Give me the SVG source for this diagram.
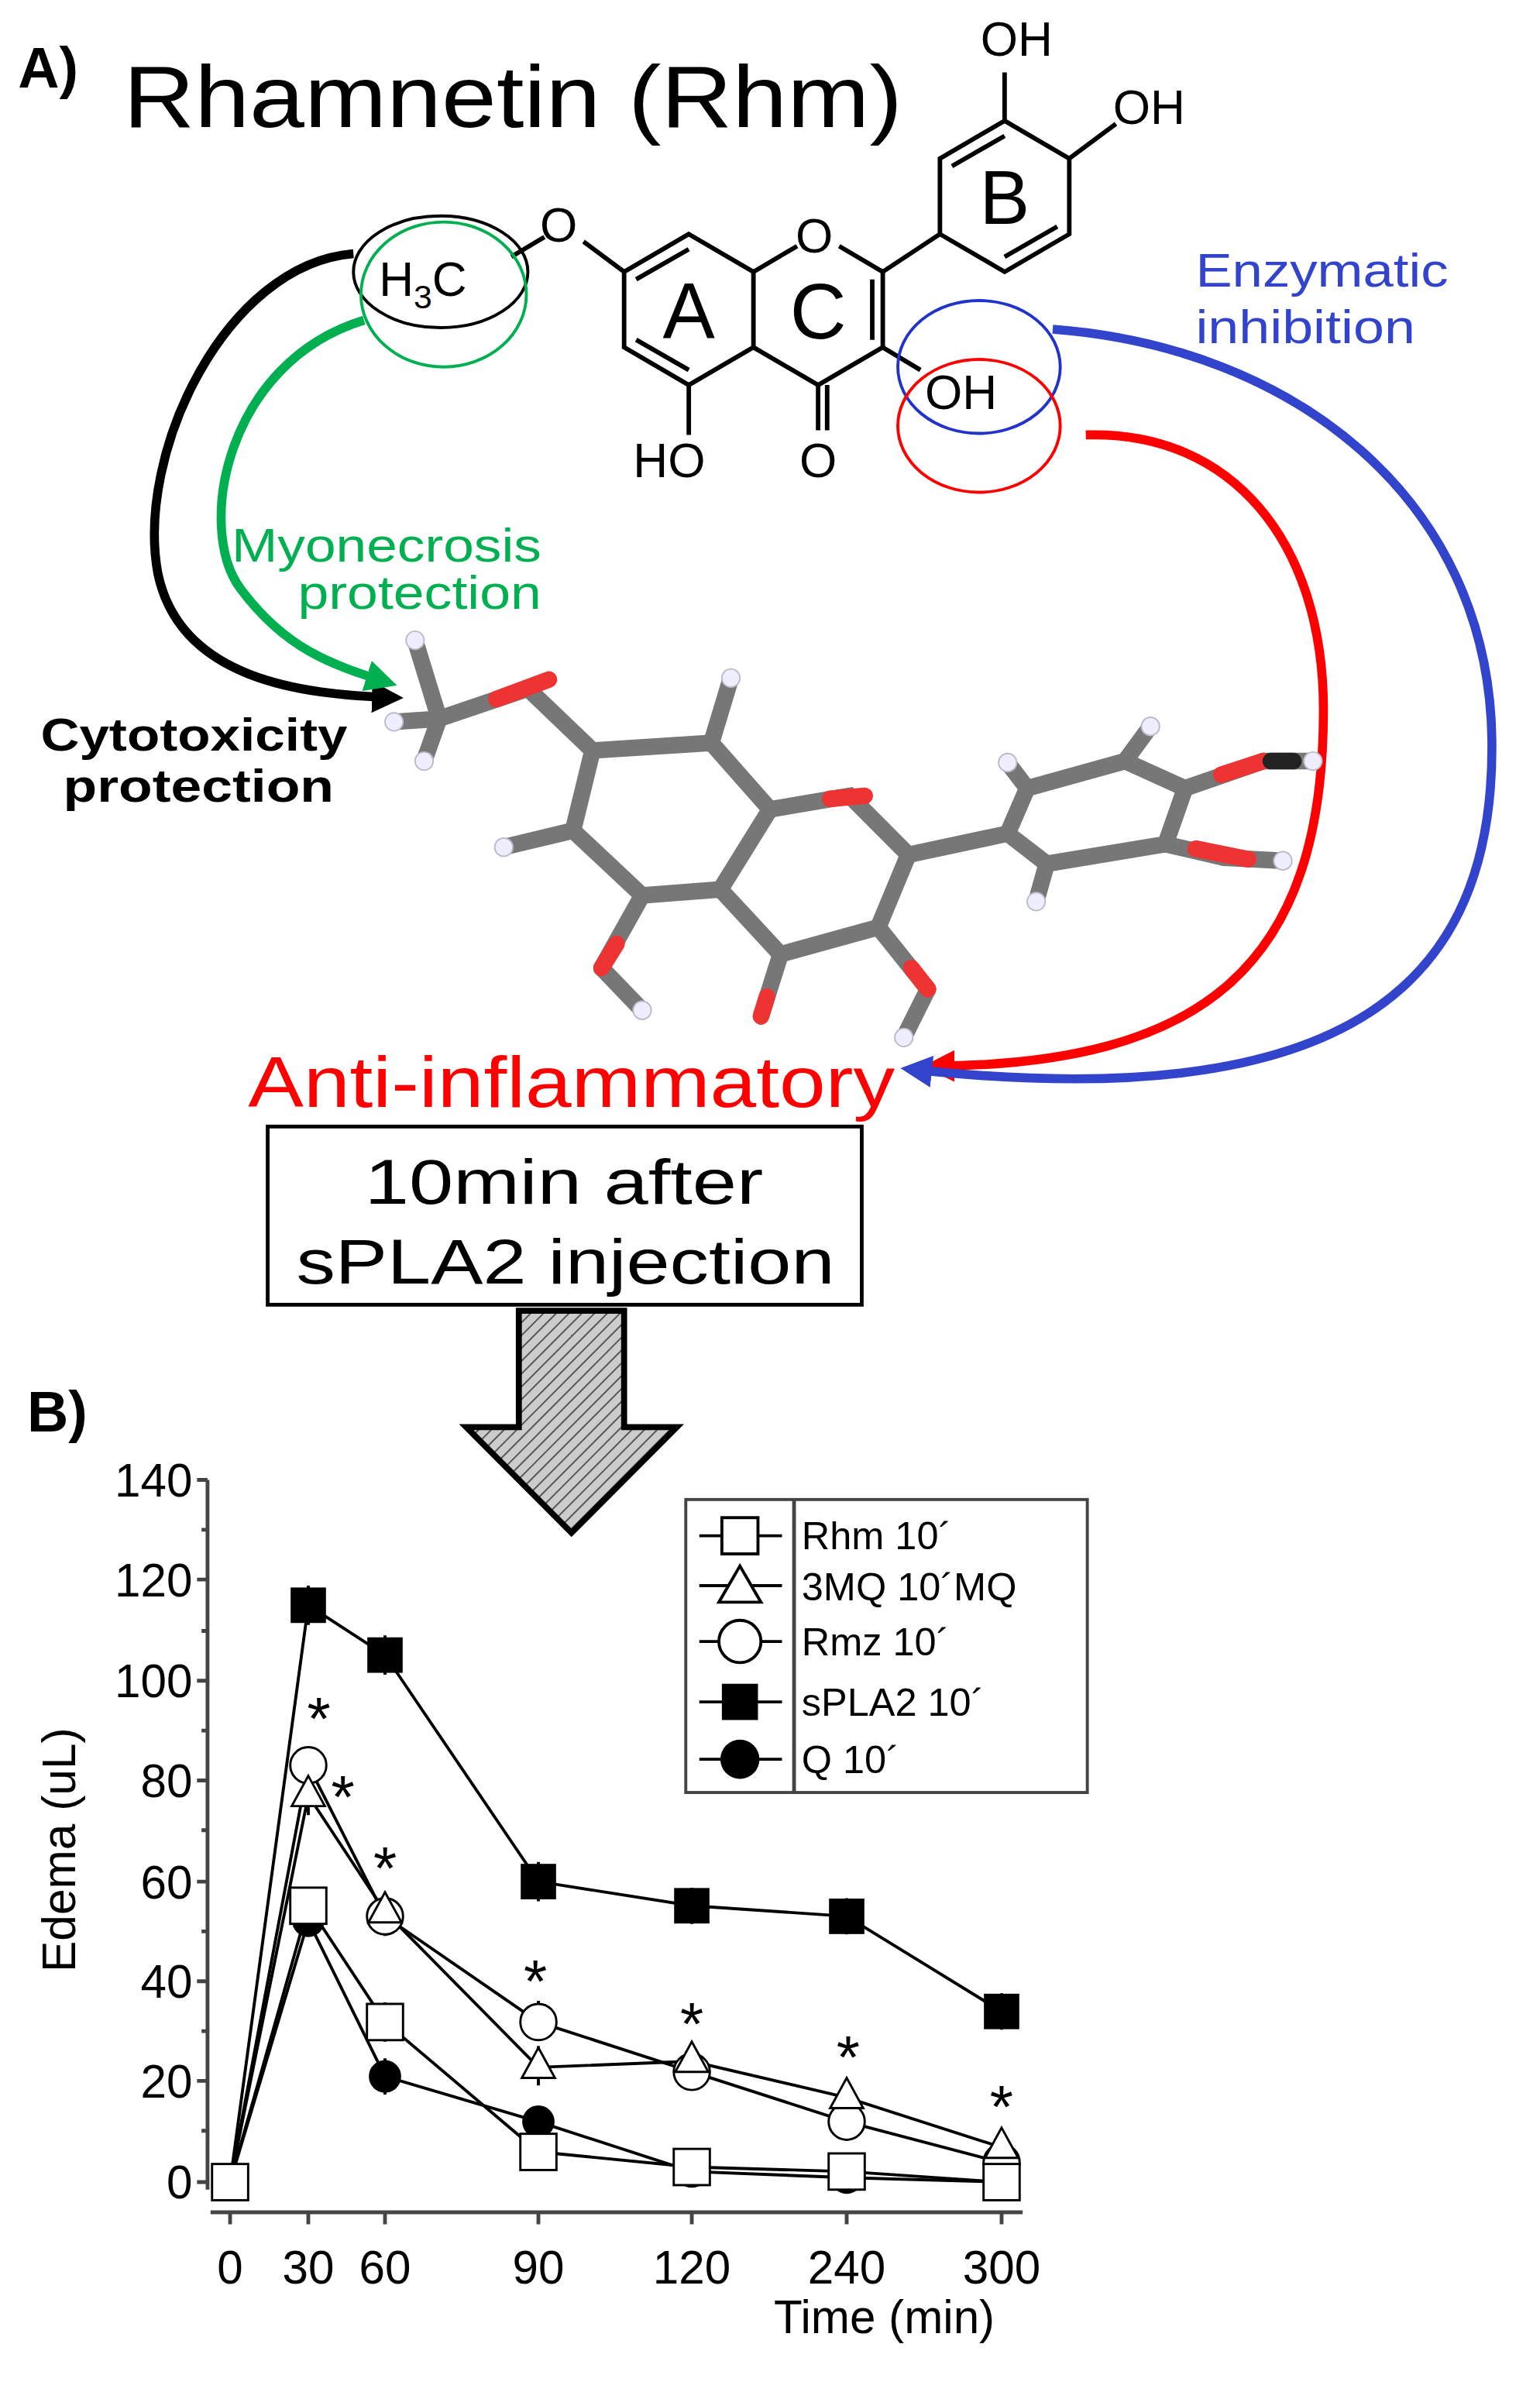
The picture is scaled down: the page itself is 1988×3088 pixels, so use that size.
<svg xmlns="http://www.w3.org/2000/svg" width="1988" height="3088" viewBox="0 0 1988 3088">
<style>
text{font-family:"Liberation Sans",Arial,sans-serif}
.b{stroke:#000;stroke-width:3;fill:none}
.st{stroke:#777;stroke-width:11;stroke-linecap:round}
.ln{stroke:#000;stroke-width:2;fill:none}
.ax{stroke:#444;stroke-width:2.5;fill:none}
.tk{font-size:31px;text-anchor:middle}
.yl{font-size:31px;text-anchor:end}
.lg{font-size:26px}
.ast{font-size:40px;text-anchor:middle}
</style>
<defs>
<pattern id="h" width="6" height="6" patternUnits="userSpaceOnUse" patternTransform="rotate(45)"><rect width="6" height="6" fill="#ccc"/><line x1="0" y1="0" x2="0" y2="6" stroke="#555" stroke-width="2"/></pattern>
<marker id="mk" viewBox="0 0 10 10" refX="7" refY="5" markerWidth="3.5" markerHeight="3.5" orient="auto"><path d="M0,0L10,5L0,10z" fill="#000"/></marker>
<marker id="mg" viewBox="0 0 10 10" refX="7" refY="5" markerWidth="3.5" markerHeight="3.5" orient="auto"><path d="M0,0L10,5L0,10z" fill="#00b050"/></marker>
<marker id="mr" viewBox="0 0 10 10" refX="7" refY="5" markerWidth="3.5" markerHeight="3.5" orient="auto"><path d="M0,0L10,5L0,10z" fill="#f00"/></marker>
<marker id="mb" viewBox="0 0 10 10" refX="7" refY="5" markerWidth="3.5" markerHeight="3.5" orient="auto"><path d="M0,0L10,5L0,10z" fill="#3344cc"/></marker>
</defs>
<rect width="1988" height="3088" fill="#fff"/>
<g transform="scale(1.9414,1.9495)">
<g id="titles">
<text x="12" y="58" font-size="38" font-weight="bold">A)</text>
<text x="82" y="84" font-size="58" textLength="518" lengthAdjust="spacingAndGlyphs">Rhamnetin (Rhm)</text>
<text x="18" y="948" font-size="38" font-weight="bold">B)</text>
</g>
<g id="structure">
<path class="b" d="M458,155L501,180L501,230L458,255L415,230L415,180Z M501,180L530,163 M558,163L587,180L587,230L544,255L501,230 M423,185L458,165 M423,225L458,245 M580,185L580,225"/>
<path class="b" d="M544,255L544,285 M550,255L550,285 M458,255L458,288 M587,230L612,245 M587,180L625,155 M415,180L388,160 M340,170L362,157"/>
<path class="b" d="M625,155L625,105L668,80L711,105L711,155L668,180Z M633,110L668,90 M703,150L668,170 M668,80L668,48 M711,105L742,82"/>
<text x="529" y="167" font-size="32">O</text>
<text x="359" y="160" font-size="32">O</text>
<text x="544" y="316" font-size="32" text-anchor="middle">O</text>
<text x="445" y="316" font-size="32" text-anchor="middle">HO</text>
<text x="615" y="271" font-size="32">OH</text>
<text x="652" y="37" font-size="32">OH</text>
<text x="740" y="82" font-size="32">OH</text>
<text x="252" y="196" font-size="32">H<tspan font-size="22" dy="8">3</tspan><tspan dy="-8">C</tspan></text>
<text x="458" y="224" font-size="52" text-anchor="middle">A</text>
<text x="544" y="224" font-size="52" text-anchor="middle">C</text>
<text x="668" y="148" font-size="50" text-anchor="middle">B</text>
<ellipse cx="293" cy="180" rx="58" ry="37" fill="none" stroke="#000" stroke-width="2"/>
<ellipse cx="295" cy="195" rx="55" ry="48" fill="none" stroke="#00b050" stroke-width="2"/>
<ellipse cx="651" cy="243" rx="54" ry="44" fill="none" stroke="#2233cc" stroke-width="2"/>
<ellipse cx="651" cy="282" rx="54" ry="44" fill="none" stroke="#f00" stroke-width="2"/>
</g>
<g id="connectors" fill="none" stroke-width="6">
<path d="M235,168C150,175 90,300 105,380C120,450 200,460 262,462" stroke="#000" marker-end="url(#mk)"/>
<path d="M242,212C150,240 130,350 160,390C190,430 220,440 258,452" stroke="#00b050" marker-end="url(#mg)"/>
<path d="M722,288C820,285 880,360 880,470C880,640 800,705 620,706" stroke="#f00" marker-end="url(#mr)"/>
<path d="M700,218C860,230 990,330 992,490C994,650 900,740 605,708" stroke="#3344cc" marker-end="url(#mb)"/>
</g>
<g id="labels">
<text x="795" y="190" font-size="31" fill="#3344cc" textLength="168" lengthAdjust="spacingAndGlyphs">Enzymatic</text>
<text x="795" y="227" font-size="31" fill="#3344cc" textLength="146" lengthAdjust="spacingAndGlyphs">inhibition</text>
<text x="154" y="372" font-size="31" fill="#00b050" textLength="206" lengthAdjust="spacingAndGlyphs">Myonecrosis</text>
<text x="198" y="403" font-size="31" fill="#00b050" textLength="162" lengthAdjust="spacingAndGlyphs">protection</text>
<text x="27" y="497" font-size="30" font-weight="bold" textLength="204" lengthAdjust="spacingAndGlyphs">Cytotoxicity</text>
<text x="42" y="531" font-size="30" font-weight="bold" textLength="180" lengthAdjust="spacingAndGlyphs">protection</text>
<text x="165" y="733" font-size="48" fill="#f00" textLength="430" lengthAdjust="spacingAndGlyphs">Anti-inflammatory</text>
</g>
<g id="molecule3d">
<g class="st">
<line x1="292" y1="476" x2="276" y2="424"/><line x1="292" y1="476" x2="282" y2="504"/><line x1="292" y1="476" x2="262" y2="478"/>
<line x1="292" y1="476" x2="351" y2="456"/><line x1="351" y1="456" x2="394" y2="497"/>
<polyline points="394,497 473,492 512,536 479,589 427,593 381,550 394,497" fill="none"/>
<line x1="473" y1="492" x2="486" y2="449"/><line x1="381" y1="550" x2="335" y2="561"/>
<polyline points="512,536 565,527 604,566 584,614 519,632 479,589" fill="none"/>
<line x1="519" y1="632" x2="506" y2="673"/><line x1="427" y1="593" x2="400" y2="641"/><line x1="400" y1="641" x2="427" y2="669"/>
<line x1="584" y1="614" x2="617" y2="655"/><line x1="617" y1="655" x2="601" y2="687"/>
<line x1="604" y1="566" x2="670" y2="552"/>
<polyline points="670,552 696,572 775,559 788,522 748,504 683,522 670,552" fill="none"/>
<line x1="683" y1="522" x2="670" y2="505"/><line x1="748" y1="504" x2="765" y2="481"/><line x1="696" y1="572" x2="689" y2="597"/>
<line x1="788" y1="522" x2="840" y2="504"/><line x1="775" y1="559" x2="814" y2="568"/><line x1="814" y1="568" x2="853" y2="570"/><line x1="840" y1="504" x2="873" y2="504"/>
</g>
<g stroke-width="11" stroke-linecap="round">
<line x1="330" y1="463" x2="365" y2="450" stroke="#e33"/>
<line x1="552" y1="529" x2="575" y2="527" stroke="#e33"/>
<line x1="510" y1="660" x2="506" y2="673" stroke="#e33"/>
<line x1="410" y1="625" x2="400" y2="641" stroke="#e33"/>
<line x1="606" y1="641" x2="617" y2="655" stroke="#e33"/>
<line x1="812" y1="513" x2="840" y2="504" stroke="#e33"/>
<line x1="795" y1="562" x2="830" y2="569" stroke="#e33"/>
<line x1="845" y1="504" x2="860" y2="504" stroke="#222"/>
</g>
<g fill="#eef" stroke="#bbc" stroke-width="1">
<circle cx="276" cy="424" r="6"/><circle cx="282" cy="504" r="6"/><circle cx="262" cy="478" r="6"/><circle cx="486" cy="449" r="6"/><circle cx="335" cy="561" r="6"/><circle cx="427" cy="669" r="6"/><circle cx="601" cy="687" r="6"/><circle cx="670" cy="505" r="6"/><circle cx="765" cy="481" r="6"/><circle cx="689" cy="597" r="6"/><circle cx="853" cy="570" r="6"/><circle cx="873" cy="504" r="6"/>
</g>
</g>
<g id="box">
<rect x="178" y="746" width="395" height="118" fill="#fff" stroke="#000" stroke-width="2.5"/>
<text x="375" y="797" font-size="42" text-anchor="middle" textLength="265" lengthAdjust="spacingAndGlyphs">10min after</text>
<text x="376" y="850" font-size="42" text-anchor="middle" textLength="358" lengthAdjust="spacingAndGlyphs">sPLA2 injection</text>
</g>
<g id="bigarrow">
<path d="M345,868L415,868L415,945L450,945L380,1015L310,945L345,945Z" fill="url(#h)" stroke="#000" stroke-width="4"/>
</g>
<g id="chart">
<path class="ax" d="M138,980L138,1450 M131,980H138 M131,1046H138 M131,1113H138 M131,1179H138 M131,1246H138 M131,1312H138 M131,1378H138 M131,1445H138 M134,1013H138 M134,1080H138 M134,1146H138 M134,1212H138 M134,1279H138 M134,1345H138 M134,1411H138"/>
<path class="ax" d="M140,1465H680 M153,1465v8 M205,1465v8 M256,1465v8 M358,1465v8 M460,1465v8 M563,1465v8 M666,1465v8"/>
<g class="yl"><text x="128" y="991">140</text><text x="128" y="1057">120</text><text x="128" y="1124">100</text><text x="128" y="1190">80</text><text x="128" y="1257">60</text><text x="128" y="1323">40</text><text x="128" y="1389">20</text><text x="128" y="1456">0</text></g>
<g class="tk"><text x="153" y="1512">0</text><text x="205" y="1512">30</text><text x="256" y="1512">60</text><text x="358" y="1512">90</text><text x="460" y="1512">120</text><text x="563" y="1512">240</text><text x="666" y="1512">300</text></g>
<text x="588" y="1545" font-size="31" text-anchor="middle">Time (min)</text>
<text transform="translate(50,1225) rotate(-90)" font-size="31" text-anchor="middle">Edema (uL)</text>
<g class="ln">
<polyline points="153,1445 205,1063 256,1096 358,1246 460,1262 563,1269 666,1332"/>
<polyline points="153,1445 205,1169 256,1269 358,1339 460,1372 563,1405 666,1432"/>
<polyline points="153,1445 205,1189 256,1266 358,1369 460,1365 563,1389 666,1422"/>
<polyline points="153,1445 205,1262 256,1339 358,1425 460,1435 563,1438 666,1445"/>
<polyline points="153,1445 205,1272 256,1375 358,1405 460,1438 563,1442 666,1445"/>
<path d="M205,1050v26 M256,1083v26 M358,1233v26 M460,1250v24 M563,1257v24 M666,1320v24 M205,1158v22 M256,1256v26 M358,1325v26 M460,1360v24 M563,1392v24 M205,1176v26 M256,1253v26 M358,1355v26 M460,1352v26 M563,1377v24 M205,1250v24 M256,1326v26 M205,1262v20 M256,1363v24"/>
</g>
<g stroke="#000" stroke-width="1.5">
<g fill="#000"><rect x="194" y="1052" width="22" height="22"/><rect x="245" y="1085" width="22" height="22"/><rect x="347" y="1235" width="22" height="22"/><rect x="449" y="1251" width="22" height="22"/><rect x="552" y="1258" width="22" height="22"/><rect x="655" y="1321" width="22" height="22"/>
<circle cx="205" cy="1272" r="10"/><circle cx="256" cy="1375" r="10"/><circle cx="358" cy="1405" r="10"/><circle cx="460" cy="1438" r="10"/><circle cx="563" cy="1442" r="10"/></g>
<g fill="#fff"><circle cx="205" cy="1169" r="12"/><circle cx="256" cy="1269" r="12"/><circle cx="358" cy="1339" r="12"/><circle cx="460" cy="1372" r="12"/><circle cx="563" cy="1405" r="12"/><circle cx="666" cy="1432" r="12"/>
<path d="M205,1176l11,20h-22z M256,1253l11,20h-22z M358,1356l11,20h-22z M460,1352l11,20h-22z M563,1376l11,20h-22z M666,1409l11,20h-22z"/>
<rect x="141" y="1433" width="24" height="24"/><rect x="193" y="1250" width="24" height="24"/><rect x="244" y="1327" width="24" height="24"/><rect x="346" y="1413" width="24" height="24"/><rect x="448" y="1423" width="24" height="24"/><rect x="551" y="1426" width="24" height="24"/><rect x="654" y="1433" width="24" height="24"/></g>
</g>
<g class="ast"><text x="212" y="1152">*</text><text x="228" y="1204">*</text><text x="256" y="1251">*</text><text x="356" y="1326">*</text><text x="460" y="1354">*</text><text x="564" y="1376">*</text><text x="666" y="1409">*</text></g>
<g id="legend">
<rect x="456" y="993" width="267" height="194" fill="#fff" stroke="#444" stroke-width="2"/>
<path class="ax" d="M528,993V1187"/>
<path class="ln" d="M465,1017h55 M465,1050h55 M465,1087h55 M465,1127h55 M465,1165h55"/>
<rect x="480" y="1005" width="24" height="24" fill="#fff" stroke="#000" stroke-width="2"/>
<path d="M492,1037l14,24h-28z" fill="#fff" stroke="#000" stroke-width="2"/>
<circle cx="492" cy="1087" r="14" fill="#fff" stroke="#000" stroke-width="2"/>
<rect x="480" y="1115" width="24" height="24" fill="#000"/>
<circle cx="492" cy="1165" r="13" fill="#000"/>
<g class="lg"><text x="533" y="1026">Rhm 10´</text><text x="533" y="1060">3MQ 10´MQ</text><text x="533" y="1096">Rmz 10´</text><text x="533" y="1136">sPLA2 10´</text><text x="533" y="1174">Q 10´</text></g>
</g>
</g>
</g>
</svg>
